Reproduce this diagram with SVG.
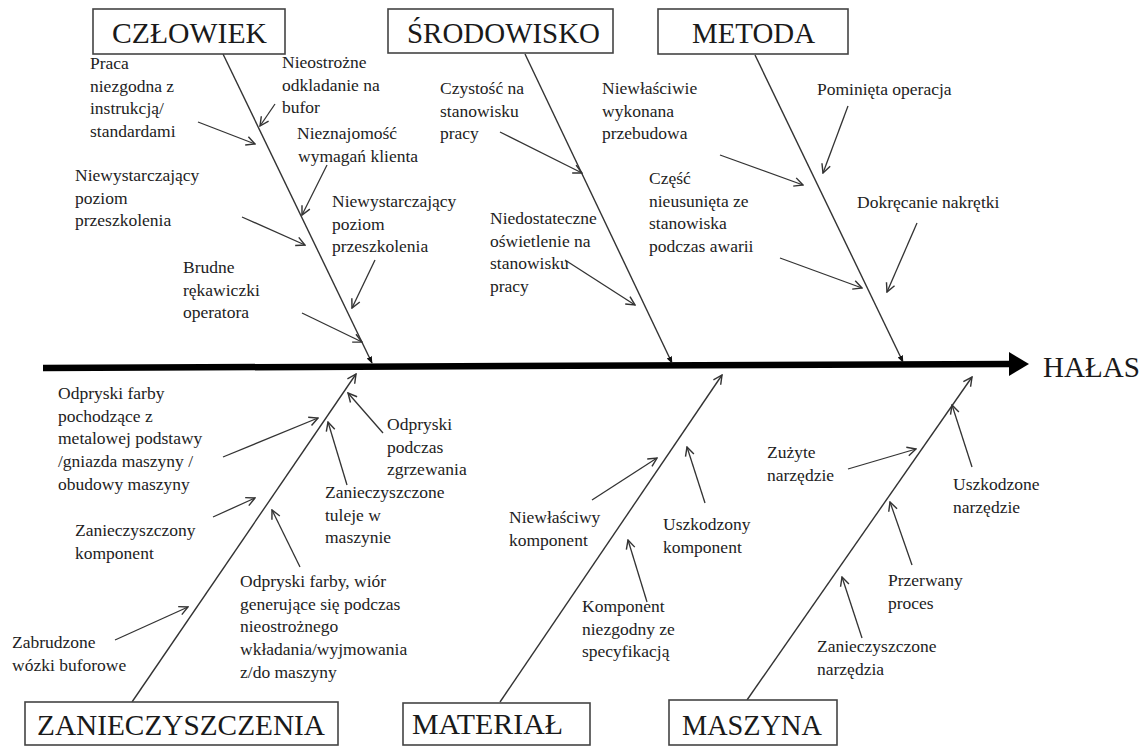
<svg xmlns="http://www.w3.org/2000/svg" width="1147" height="746" viewBox="0 0 1147 746">
<defs>
<marker id="open" viewBox="0 0 10 10" refX="9" refY="5" markerWidth="11" markerHeight="11" markerUnits="userSpaceOnUse" orient="auto">
<path d="M1,1 L9,5 L1,9" fill="none" stroke="#333" stroke-width="1.3"/>
</marker>
<marker id="dot" viewBox="0 0 10 10" refX="9" refY="5" markerWidth="7" markerHeight="7" markerUnits="userSpaceOnUse" orient="auto">
<path d="M0,1 L10,5 L0,9 Z" fill="#111"/>
</marker>
<style>
.box{fill:#fff;stroke:#444;stroke-width:1.6}
.big{font-family:"Liberation Serif","Times New Roman",serif;font-size:29px;fill:#1a1a1a}
.lbl{font-family:"Liberation Serif","Times New Roman",serif;font-size:17.5px;fill:#222}
.br{stroke:#333;stroke-width:1.4;fill:none}
.ar{stroke:#333;stroke-width:1.3;fill:none;marker-end:url(#open)}
</style>
</defs>
<rect width="1147" height="746" fill="#fff"/>

<g id="connectors">
<line x1="43" y1="368" x2="1012" y2="364" stroke="#000" stroke-width="6.5"/>
<polygon points="1009,352 1029,364 1009,376" fill="#000"/>
<line class="br" x1="223" y1="54" x2="372" y2="363" marker-end="url(#dot)"/>
<line class="br" x1="525" y1="54" x2="672" y2="363" marker-end="url(#dot)"/>
<line class="br" x1="755" y1="55" x2="903" y2="362" marker-end="url(#dot)"/>
<line class="br" x1="132" y1="702" x2="356" y2="374" marker-end="url(#open)"/>
<line class="br" x1="500" y1="702" x2="722" y2="375" marker-end="url(#open)"/>
<line class="br" x1="747" y1="700" x2="972" y2="377" marker-end="url(#open)"/>
<line class="ar" x1="198" y1="122" x2="255" y2="144"/>
<line class="ar" x1="275" y1="104" x2="260" y2="126"/>
<line class="ar" x1="327" y1="165" x2="302" y2="215"/>
<line class="ar" x1="242" y1="217" x2="305" y2="245"/>
<line class="ar" x1="375" y1="260" x2="352" y2="308"/>
<line class="ar" x1="302" y1="313" x2="362" y2="342"/>
<line class="ar" x1="500" y1="132" x2="582" y2="173"/>
<line class="ar" x1="720" y1="155" x2="803" y2="185"/>
<line class="ar" x1="565" y1="260" x2="635" y2="305"/>
<line class="ar" x1="780" y1="258" x2="862" y2="288"/>
<line class="ar" x1="848" y1="106" x2="823" y2="173"/>
<line class="ar" x1="917" y1="223" x2="887" y2="292"/>
<line class="ar" x1="223" y1="457" x2="318" y2="418"/>
<line class="ar" x1="383" y1="433" x2="348" y2="393"/>
<line class="ar" x1="347" y1="485" x2="328" y2="422"/>
<line class="ar" x1="213" y1="517" x2="255" y2="498"/>
<line class="ar" x1="300" y1="567" x2="272" y2="510"/>
<line class="ar" x1="115" y1="640" x2="188" y2="607"/>
<line class="ar" x1="592" y1="500" x2="657" y2="458"/>
<line class="ar" x1="705" y1="503" x2="687" y2="447"/>
<line class="ar" x1="647" y1="602" x2="628" y2="540"/>
<line class="ar" x1="848" y1="469" x2="916" y2="449"/>
<line class="ar" x1="972" y1="467" x2="952" y2="405"/>
<line class="ar" x1="912" y1="565" x2="890" y2="502"/>
<line class="ar" x1="862" y1="638" x2="842" y2="577"/>
</g>

<g id="czlowiek"><rect class="box" x="93" y="9" width="192" height="45"/><text class="big" x="112" y="43" textLength="155" lengthAdjust="spacingAndGlyphs">CZŁOWIEK</text></g>
<g id="srodowisko"><rect class="box" x="388" y="9" width="225" height="44"/><text class="big" x="407" y="43" textLength="193" lengthAdjust="spacingAndGlyphs">ŚRODOWISKO</text></g>
<g id="metoda"><rect class="box" x="658" y="9" width="190" height="45"/><text class="big" x="692" y="43" textLength="123" lengthAdjust="spacingAndGlyphs">METODA</text></g>
<g id="zanieczyszczenia"><rect class="box" x="25" y="702" width="313" height="43"/><text class="big" x="37" y="735" textLength="288" lengthAdjust="spacingAndGlyphs">ZANIECZYSZCZENIA</text></g>
<g id="material"><rect class="box" x="403" y="703" width="187" height="42"/><text class="big" x="412" y="734" textLength="151" lengthAdjust="spacingAndGlyphs">MATERIAŁ</text></g>
<g id="maszyna"><rect class="box" x="669" y="700" width="168" height="45"/><text class="big" x="682" y="735" textLength="140" lengthAdjust="spacingAndGlyphs">MASZYNA</text></g>
<g id="halas"><text class="big" x="1043" y="377" textLength="97" lengthAdjust="spacingAndGlyphs">HAŁAS</text></g>

<g id="c1"><text class="lbl" x="90" y="69"><tspan x="90">Praca</tspan><tspan x="90" dy="22.7">niezgodna z</tspan><tspan x="90" dy="22.7">instrukcją/</tspan><tspan x="90" dy="22.7">standardami</tspan></text></g>
<g id="c2"><text class="lbl" x="282" y="68"><tspan x="282">Nieostrożne</tspan><tspan x="282" dy="22.7">odkladanie na</tspan><tspan x="282" dy="22.7">bufor</tspan></text></g>
<g id="c3"><text class="lbl" x="297" y="139"><tspan x="297">Nieznajomość</tspan><tspan x="298" dy="22.7">wymagań klienta</tspan></text></g>
<g id="c4"><text class="lbl" x="75" y="181"><tspan x="75">Niewystarczający</tspan><tspan x="75" dy="22.7">poziom</tspan><tspan x="75" dy="22.7">przeszkolenia</tspan></text></g>
<g id="c5"><text class="lbl" x="332" y="207"><tspan x="332">Niewystarczający</tspan><tspan x="332" dy="22.7">poziom</tspan><tspan x="332" dy="22.7">przeszkolenia</tspan></text></g>
<g id="c6"><text class="lbl" x="183" y="273"><tspan x="183">Brudne</tspan><tspan x="183" dy="22.7">rękawiczki</tspan><tspan x="183" dy="22.7">operatora</tspan></text></g>
<g id="s1"><text class="lbl" x="440" y="94"><tspan x="440">Czystość na</tspan><tspan x="440" dy="22.7">stanowisku</tspan><tspan x="440" dy="22.7">pracy</tspan></text></g>
<g id="s2"><text class="lbl" x="490" y="224"><tspan x="490">Niedostateczne</tspan><tspan x="490" dy="22.7">oświetlenie na</tspan><tspan x="490" dy="22.7">stanowisku</tspan><tspan x="490" dy="22.7">pracy</tspan></text></g>
<g id="m1"><text class="lbl" x="602" y="94"><tspan x="602">Niewłaściwie</tspan><tspan x="602" dy="22.7">wykonana</tspan><tspan x="602" dy="22.7">przebudowa</tspan></text></g>
<g id="m2"><text class="lbl" x="649" y="184"><tspan x="649">Część</tspan><tspan x="649" dy="22.7">nieusunięta ze</tspan><tspan x="649" dy="22.7">stanowiska</tspan><tspan x="649" dy="22.7">podczas awarii</tspan></text></g>
<g id="m3"><text class="lbl" x="817" y="95">Pominięta operacja</text></g>
<g id="m4"><text class="lbl" x="857" y="208">Dokręcanie nakrętki</text></g>
<g id="z1"><text class="lbl" x="58" y="399"><tspan x="58">Odpryski farby</tspan><tspan x="58" dy="22.7">pochodzące z</tspan><tspan x="58" dy="22.7">metalowej podstawy</tspan><tspan x="58" dy="22.7">/gniazda maszyny /</tspan><tspan x="58" dy="22.7">obudowy maszyny</tspan></text></g>
<g id="z2"><text class="lbl" x="387" y="430"><tspan x="387">Odpryski</tspan><tspan x="387" dy="22.7">podczas</tspan><tspan x="387" dy="22.7">zgrzewania</tspan></text></g>
<g id="z3"><text class="lbl" x="325" y="498"><tspan x="325">Zanieczyszczone</tspan><tspan x="325" dy="22.7">tuleje w</tspan><tspan x="325" dy="22.7">maszynie</tspan></text></g>
<g id="z4"><text class="lbl" x="75" y="536"><tspan x="75">Zanieczyszczony</tspan><tspan x="75" dy="22.7">komponent</tspan></text></g>
<g id="z5"><text class="lbl" x="240" y="587"><tspan x="240">Odpryski farby, wiór</tspan><tspan x="240" dy="22.7">generujące się podczas</tspan><tspan x="240" dy="22.7">nieostrożnego</tspan><tspan x="240" dy="22.7">wkładania/wyjmowania</tspan><tspan x="240" dy="22.7">z/do maszyny</tspan></text></g>
<g id="z6"><text class="lbl" x="12" y="648"><tspan x="12">Zabrudzone</tspan><tspan x="12" dy="22.7">wózki buforowe</tspan></text></g>
<g id="t1"><text class="lbl" x="509" y="523"><tspan x="509">Niewłaściwy</tspan><tspan x="509" dy="22.7">komponent</tspan></text></g>
<g id="t2"><text class="lbl" x="663" y="530"><tspan x="663">Uszkodzony</tspan><tspan x="663" dy="22.7">komponent</tspan></text></g>
<g id="t3"><text class="lbl" x="582" y="612"><tspan x="582">Komponent</tspan><tspan x="582" dy="22.7">niezgodny ze</tspan><tspan x="582" dy="22.7">specyfikacją</tspan></text></g>
<g id="n1"><text class="lbl" x="767" y="458"><tspan x="767">Zużyte</tspan><tspan x="767" dy="22.7">narzędzie</tspan></text></g>
<g id="n2"><text class="lbl" x="953" y="490"><tspan x="953">Uszkodzone</tspan><tspan x="953" dy="22.7">narzędzie</tspan></text></g>
<g id="n3"><text class="lbl" x="888" y="586"><tspan x="888">Przerwany</tspan><tspan x="888" dy="22.7">proces</tspan></text></g>
<g id="n4"><text class="lbl" x="817" y="652"><tspan x="817">Zanieczyszczone</tspan><tspan x="817" dy="22.7">narzędzia</tspan></text></g>
</svg>
